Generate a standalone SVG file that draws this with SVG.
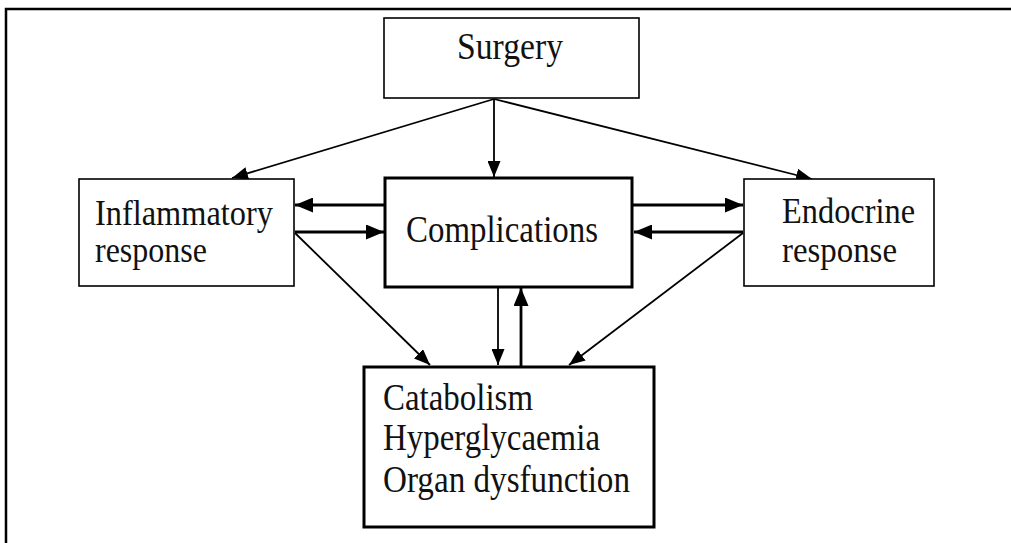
<svg xmlns="http://www.w3.org/2000/svg" width="1011" height="543" viewBox="0 0 1011 543">
<defs>
<style>
.box{fill:#fff;stroke:#000;stroke-width:1.6}
.bold{fill:#fff;stroke:#000;stroke-width:3}
.t{font-family:"Liberation Serif","Times New Roman",serif;font-size:38px;fill:#111}
.s{font-size:35px}
.c{fill:none;stroke:#000;stroke-width:1.8}
.cb{fill:none;stroke:#000;stroke-width:2.8}
</style>
<marker id="ah" viewBox="0 0 16 13" refX="16" refY="6.5" markerWidth="16" markerHeight="13" markerUnits="userSpaceOnUse" orient="auto">
<path d="M0,0 L16,6.5 L0,13 Z" fill="#000"/>
</marker>
<marker id="ahb" viewBox="0 0 18 15" refX="18" refY="7.5" markerWidth="18" markerHeight="15" markerUnits="userSpaceOnUse" orient="auto">
<path d="M0,0 L18,7.5 L0,15 Z" fill="#000"/>
</marker>
</defs>
<rect width="1011" height="543" fill="#fff"/>
<path d="M6,543 V9 H1011" fill="none" stroke="#000" stroke-width="2.5"/>
<g id="connectors">
<line class="c" x1="494" y1="99" x2="232" y2="178" marker-end="url(#ah)"/>
<line class="c" x1="494" y1="99" x2="494" y2="177" marker-end="url(#ah)"/>
<line class="c" x1="494" y1="99" x2="812" y2="179" marker-end="url(#ah)"/>
<line class="cb" x1="384" y1="205" x2="295" y2="205" marker-end="url(#ahb)"/>
<line class="cb" x1="295" y1="232" x2="384" y2="232" marker-end="url(#ahb)"/>
<line class="cb" x1="633" y1="205" x2="743" y2="205" marker-end="url(#ahb)"/>
<line class="cb" x1="743" y1="232" x2="634" y2="232" marker-end="url(#ahb)"/>
<line class="c" x1="295" y1="233" x2="430" y2="365" marker-end="url(#ah)"/>
<line class="c" x1="743" y1="233" x2="569" y2="365" marker-end="url(#ah)"/>
<line class="c" x1="498" y1="288" x2="498" y2="365" marker-end="url(#ah)"/>
<line class="cb" x1="521" y1="366" x2="521" y2="288" marker-end="url(#ahb)"/>
</g>
<g id="surgery">
<rect class="box" x="384" y="18" width="255" height="80"/>
<text class="t" x="457" y="59" textLength="106" lengthAdjust="spacingAndGlyphs">Surgery</text>
</g>
<g id="inflammatory">
<rect class="box" x="79" y="179" width="215" height="107"/>
<text class="t s" x="95" y="225" textLength="178" lengthAdjust="spacingAndGlyphs">Inflammatory</text>
<text class="t s" x="95" y="262" textLength="112" lengthAdjust="spacingAndGlyphs">response</text>
</g>
<g id="complications">
<rect class="bold" x="385" y="178" width="247" height="109"/>
<text class="t" x="406" y="242" textLength="192" lengthAdjust="spacingAndGlyphs">Complications</text>
</g>
<g id="endocrine">
<rect class="box" x="744" y="179" width="190" height="107"/>
<text class="t s" x="782" y="223" textLength="133" lengthAdjust="spacingAndGlyphs">Endocrine</text>
<text class="t s" x="782" y="262" textLength="115" lengthAdjust="spacingAndGlyphs">response</text>
</g>
<g id="outcomes">
<rect class="bold" x="364" y="367" width="290" height="160"/>
<text class="t" x="383" y="410" textLength="150" lengthAdjust="spacingAndGlyphs">Catabolism</text>
<text class="t" x="383" y="450" textLength="217" lengthAdjust="spacingAndGlyphs">Hyperglycaemia</text>
<text class="t" x="383" y="492" textLength="247" lengthAdjust="spacingAndGlyphs">Organ dysfunction</text>
</g>
</svg>
